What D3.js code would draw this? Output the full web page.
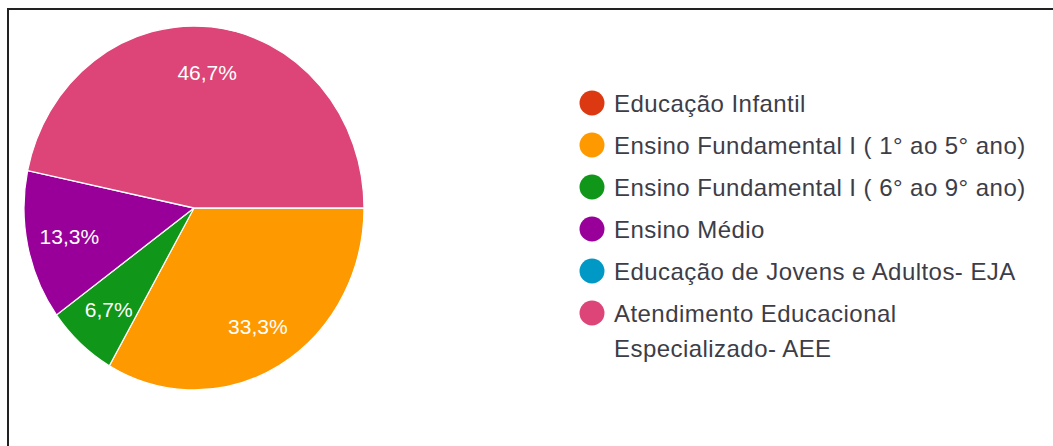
<!DOCTYPE html>
<html>
<head>
<meta charset="utf-8">
<script src="https://cdn.jsdelivr.net/npm/d3@7"></script>
<style>
  html, body { margin: 0; padding: 0; background: #fff; }
  svg { display: block; }
</style>
</head>
<body>
<div id="chart"></div>
<script>
// categories + values (percent of answers)
const categories = [
  "Educação Infantil",
  "Ensino Fundamental I ( 1° ao 5° ano)",
  "Ensino Fundamental I ( 6° ao 9° ano)",
  "Ensino Médio",
  "Educação de Jovens e Adultos- EJA",
  "Atendimento Educacional Especializado- AEE"
];
const values = [0, 33.3, 6.7, 13.3, 0, 46.7];
const colors = ["#dc3912", "#ff9900", "#109618", "#990099", "#0099c6", "#dd4477"];

// legend labels that wrap onto two lines
const legendLines = [
  ["Educação Infantil"],
  ["Ensino Fundamental I ( 1° ao 5° ano)"],
  ["Ensino Fundamental I ( 6° ao 9° ano)"],
  ["Ensino Médio"],
  ["Educação de Jovens e Adultos- EJA"],
  ["Atendimento Educacional", "Especializado- AEE"]
];

const W = 1053, H = 446;
const svg = d3.select("#chart").append("svg")
  .attr("width", W)
  .attr("height", H);

// frame (only top and left edges show in the crop)
svg.append("line").attr("x1", 7).attr("x2", W).attr("y1", 9).attr("y2", 9)
  .attr("stroke", "#222").attr("stroke-width", 2);
svg.append("line").attr("x1", 8).attr("x2", 8).attr("y1", 8).attr("y2", H)
  .attr("stroke", "#222").attr("stroke-width", 2);

// pie is a bit stretched vertically in the source image
const cx = 194, cy = 208, rx = 170, ry = 182;
const sy = ry / rx;

const pie = d3.pie()
  .sort(null)
  .value(d => d)
  .startAngle(Math.PI / 2)
  .endAngle(Math.PI / 2 + 2 * Math.PI);

const arcs = pie(values);
const arc = d3.arc().innerRadius(0).outerRadius(rx);
const labelArc = d3.arc().innerRadius(rx * 0.75).outerRadius(rx * 0.75);

const g = svg.append("g")
  .attr("transform", `translate(${cx},${cy}) scale(1,${sy})`);

g.selectAll("path")
  .data(arcs.filter(d => d.value > 0))
  .enter()
  .append("path")
  .attr("d", arc)
  .attr("fill", d => colors[d.index])
  .attr("stroke", "#fff")
  .attr("stroke-width", 1.2);

// percentage labels
svg.selectAll(".pct")
  .data(arcs.filter(d => d.value > 0))
  .enter()
  .append("text")
  .attr("class", "pct")
  .attr("x", d => cx + labelArc.centroid(d)[0])
  .attr("y", d => cy + labelArc.centroid(d)[1] * sy)
  .attr("dy", "0.36em")
  .attr("text-anchor", "middle")
  .attr("fill", "#fff")
  .style("font-family", "'Liberation Sans', Arial, sans-serif")
  .style("font-size", "21px")
  .text(d => d.value.toFixed(1).replace(".", ",") + "%");

// legend
const legX = 592, legY = 103, rowH = 42, lineH = 35;
const legend = svg.append("g");
let y = legY;
legendLines.forEach((lines, i) => {
  legend.append("circle")
    .attr("cx", legX)
    .attr("cy", y)
    .attr("r", 12.5)
    .attr("fill", colors[i]);
  lines.forEach((t, j) => {
    legend.append("text")
      .attr("x", legX + 22)
      .attr("y", y + j * lineH)
      .attr("dy", "0.36em")
      .attr("fill", "#3d3d48")
      .style("font-family", "'Liberation Sans', Arial, sans-serif")
      .style("font-size", "24px")
      .style("letter-spacing", "0.45px")
      .text(t);
  });
  y += rowH + (lines.length - 1) * lineH;
});
</script>
</body>
</html>
